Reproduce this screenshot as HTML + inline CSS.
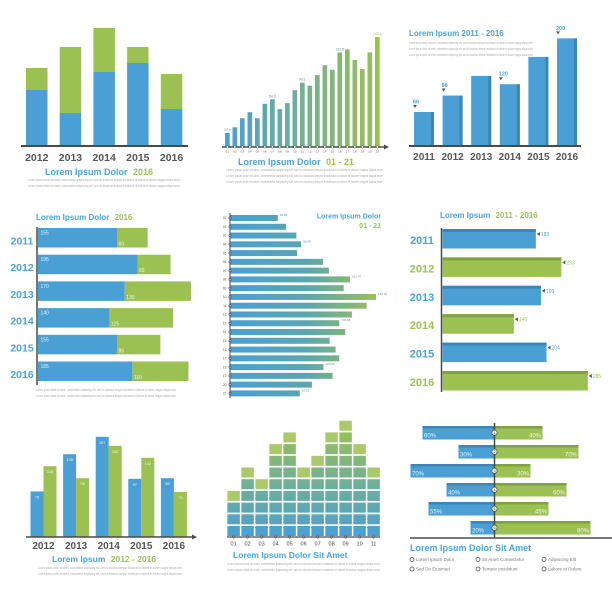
<!DOCTYPE html>
<html><head><meta charset="utf-8"><style>
html,body{margin:0;padding:0;background:#fff;}
svg{display:block;font-family:"Liberation Sans",sans-serif;}
</style></head><body>
<svg id="chart" width="612" height="597" viewBox="0 0 612 597" xmlns="http://www.w3.org/2000/svg">
<defs>
<linearGradient id="gH2" gradientUnits="userSpaceOnUse" x1="225" y1="0" x2="380" y2="0"><stop offset="0" stop-color="#4a9fd4"/><stop offset="1" stop-color="#9cc153"/></linearGradient>
<linearGradient id="gH5" gradientUnits="userSpaceOnUse" x1="230" y1="0" x2="380" y2="0"><stop offset="0" stop-color="#4a9fd4"/><stop offset="0.5" stop-color="#5aa6b0"/><stop offset="1" stop-color="#9cc153"/></linearGradient>
<linearGradient id="gV8" gradientUnits="userSpaceOnUse" x1="0" y1="537" x2="0" y2="425"><stop offset="0" stop-color="#4a9fd4"/><stop offset="1" stop-color="#9cc153"/></linearGradient>
</defs>
</svg>
<script>
// ---- data ----
const p1Years = ['2012','2013','2014','2015','2016'];
const p1Blue = [56,33,74,83,37];
const p1Green = [22,66,44,16,35];
const p2Labels = ['01','02','03','04','05','06','07','08','09','10','11','12','13','14','15','16','17','18','19','20','21'];
const p2Values = [18.5,26,38,46,38,57,63,50,58,75,85,81,95,108,102,125,129,115,103,125,145.3];
const p2Notes = ['13,4','','','','','','54,3','','','','99,1','','','','','122,5','','','','','145,3'];
const p3Years = ['2011','2012','2013','2014','2015','2016'];
const p3Values = [66,98,136,120,173,209];
const p3Shown = [true,true,false,true,false,true];
const p4Years = ['2011','2012','2013','2014','2015','2016'];
const p4Blue = [155,195,170,140,155,185];
const p4Green = [60,65,130,125,85,110];
const p5Labels = ['01','02','03','04','05','06','07','08','09','10','11','12','13','14','15','16','17','18','19','20','21'];
const p5Values = [63.89,75,89,95.46,90,125,133,161.47,153,196.64,184,164,146.95,155,134,142,147,125.66,138,110,93.53];
const p5Notes = ['63,89','','','95,46','','','','161,47','','196,64','','','146,95','','','','','125,66','','','93,53'];
const p6Years = ['2011','2012','2013','2014','2015','2016'];
const p6Values = [183,233,193,140,204,285];
const p7Years = ['2012','2013','2014','2015','2016'];
const p7Blue = [76,138,167,97,98];
const p7Green = [118,98,152,132,75];
const p8Labels = ['01','02','03','04','05','06','07','08','09','10','11'];
const p8Counts = [4,6,5,8,9,6,7,9,10,8,6];
const p9Left = [60,30,70,40,55,20];
const p9Right = [40,70,30,60,45,80];
const p9Legend = ['Lorem Ipsum Dolor','Sit Amet Consectetur','Adipiscing Elit','Sed Do Eiusmod','Tempor Incididunt','Labore et Dolore'];

const BLUE='#4a9fd4', BLUED='#3a86b9', GREEN='#9cc153', GREEND='#7fa23c', AX='#4a4a4a', TB='#4aa3d8', TG='#9cc153';
const svg=document.getElementById('chart');
const NS='http://www.w3.org/2000/svg';
function mk(tag,attrs,txt){const e=document.createElementNS(NS,tag);for(const k in attrs)e.setAttribute(k,attrs[k]);if(txt!==undefined)e.textContent=txt;svg.appendChild(e);return e;}
const FILL='Lorem ipsum dolor sit amet, consectetur adipiscing elit, sed do eiusmod tempor incididunt ut labore et dolore magna aliqua enim';
function filler(x,y,w,n,anchor){for(let i=0;i<n;i++){const t=mk('text',{x:x,y:y+i*6,'font-size':3.3,fill:'#aaa','text-anchor':anchor||'start',textLength:w,lengthAdjust:'spacingAndGlyphs'},FILL);

}}

// ---- Panel 1 ----
(function(){const base=146,x0=26,pitch=33.7,w=21.5;const y=v=>base-v;
p1Years.forEach((yr,i)=>{const x=x0+i*pitch;
const g=mk('rect',{x:x,y:y(p1Blue[i]+p1Green[i]),width:w,height:p1Green[i],fill:GREEN});


const b=mk('rect',{x:x,y:y(p1Blue[i]),width:w,height:p1Blue[i],fill:BLUE});


const t=mk('text',{x:x+w/2,y:161,'font-size':10.5,'font-weight':'bold',fill:'#555','text-anchor':'middle'},yr);

});
const a=mk('line',{x1:21,y1:base,x2:188,y2:base,stroke:AX,'stroke-width':2});


const t=mk('text',{x:45,y:175,'font-size':9,'font-weight':'bold',fill:TB});t.innerHTML='Lorem Ipsum Dolor <tspan fill="'+TG+'" dx="3">2016</tspan>';


filler(28,181,152,2);})();

// ---- Panel 2 ----
(function(){const base=147,x0=225,pitch=7.5,w=4.7,k=0.757;
p2Values.forEach((v,i)=>{const x=x0+i*pitch;
const r=mk('rect',{x:x,y:base-v*k,width:w,height:v*k,fill:'url(#gH2)'});


if(p2Notes[i]){const n=mk('text',{x:x+w/2,y:base-v*k-2,'font-size':3.5,fill:i>15?TG:'#5a8fb0','text-anchor':'middle'},p2Notes[i]);

}
const l=mk('text',{x:x+w/2,y:152.5,'font-size':3,fill:'#555','text-anchor':'middle'},p2Labels[i]);

});
const a=mk('line',{x1:222,y1:base,x2:385,y2:base,stroke:AX,'stroke-width':1.5});


const ar=mk('polygon',{points:'384,144.5 389,147 384,149.5',fill:AX});


p2Values.forEach((v,i)=>{const c=mk('circle',{cx:x0+i*pitch+w/2,cy:base,r:1.2,fill:'#fff',stroke:AX,'stroke-width':0.5});

});
const t=mk('text',{x:238,y:165,'font-size':9,'font-weight':'bold',fill:TB});t.innerHTML='Lorem Ipsum Dolor <tspan fill="'+TG+'" dx="3">01 - 21</tspan>';


filler(226,171,157,3);})();

// ---- Panel 3 ----
(function(){const base=146,x0=414,pitch=28.6,w=20,k=0.515;
p3Values.forEach((v,i)=>{const x=x0+i*pitch,h=v*k;
const r=mk('rect',{x:x,y:base-h,width:w,height:h,fill:BLUE});


const s=mk('rect',{x:x+w-3,y:base-h,width:3,height:h,fill:BLUED});


if(p3Shown[i]){const m=mk('polygon',{points:(x-1)+','+(base-h-7)+' '+(x+3)+','+(base-h-7)+' '+(x+1)+','+(base-h-4),fill:'#555'});


const n=mk('text',{x:x-1,y:base-h-8.5,'font-size':5.5,'font-weight':'bold',fill:TB},String(v));

}
const t=mk('text',{x:x+w/2,y:160,'font-size':10,'font-weight':'bold',fill:'#555','text-anchor':'middle'},p3Years[i]);

});
const a=mk('line',{x1:409,y1:base,x2:581,y2:base,stroke:AX,'stroke-width':2});


const t=mk('text',{x:409,y:36,'font-size':8,'font-weight':'bold',fill:TB},'Lorem Ipsum 2011 - 2016');


filler(409,44,124,3);})();

// ---- Panel 4 ----
(function(){const x0=38,y0=228,pitch=26.7,h=19.5,k=0.51;
p4Years.forEach((yr,i)=>{const y=y0+i*pitch,bw=p4Blue[i]*k,gw=p4Green[i]*k;
const g=mk('rect',{x:x0+bw,y:y,width:gw,height:h,fill:GREEN});


const b=mk('rect',{x:x0,y:y,width:bw,height:h,fill:BLUE});


const bl=mk('text',{x:x0+2.5,y:y+6.5,'font-size':5,fill:'#e8f3fb'},String(p4Blue[i]));


const gl=mk('text',{x:x0+bw+1.5,y:y+h-2,'font-size':5,fill:'#f3f8e8'},String(p4Green[i]));


const t=mk('text',{x:22,y:y+16.5+0,'font-size':10.5,'font-weight':'bold',fill:TB,'text-anchor':'middle'},yr);

});
const a=mk('line',{x1:37,y1:227,x2:37,y2:385,stroke:AX,'stroke-width':1.5});


const t=mk('text',{x:36,y:220,'font-size':8,'font-weight':'bold',fill:TB});t.innerHTML='Lorem Ipsum Dolor <tspan fill="'+TG+'" dx="3">2016</tspan>';


filler(36,391,140,2);})();

// ---- Panel 5 ----
(function(){const x0=230.5,y0=215,pitch=8.77,h=6,k=0.74;
p5Values.forEach((v,i)=>{const y=y0+i*pitch;
const r=mk('rect',{x:x0,y:y,width:v*k,height:h,fill:'url(#gH5)'});


const c=mk('circle',{cx:230,cy:y+h/2,r:1.3,fill:'#fff',stroke:AX,'stroke-width':0.5});


const l=mk('text',{x:226.5,y:y+h/2+1.2,'font-size':3.3,fill:'#555','text-anchor':'end'},p5Labels[i]);


if(p5Notes[i]){const n=mk('text',{x:x0+v*k+2,y:y+1,'font-size':3,fill:i>6?'#6a9a70':'#4a8fc0'},p5Notes[i]);

}});
const a=mk('line',{x1:230,y1:213,x2:230,y2:398,stroke:AX,'stroke-width':1});


const t1=mk('text',{x:381,y:218.5,'font-size':7,'font-weight':'bold',fill:TB,'text-anchor':'end'},'Lorem Ipsum Dolor');


const t2=mk('text',{x:381,y:228,'font-size':7,'font-weight':'bold',fill:TG,'text-anchor':'end'},'01 - 21');

})();

// ---- Panel 6 ----
(function(){const x0=442.5,y0=229,pitch=28.4,h=19.5,k=0.51;
p6Values.forEach((v,i)=>{const y=y0+i*pitch,w=v*k,c=i%2?GREEN:BLUE,cd=i%2?GREEND:BLUED;
const r=mk('rect',{x:x0,y:y,width:w,height:h,fill:c});


const s=mk('rect',{x:x0,y:y,width:w,height:3,fill:cd});


const m=mk('polygon',{points:(x0+w+1)+','+(y+5)+' '+(x0+w+4)+','+(y+3)+' '+(x0+w+4)+','+(y+7),fill:'#555'});


const n=mk('text',{x:x0+w+5,y:y+7,'font-size':5,fill:i%2?TG:TB},String(v));


const t=mk('text',{x:422,y:y+15,'font-size':11,'font-weight':'bold',fill:i%2?TG:TB,'text-anchor':'middle'},p6Years[i]);

});
const a=mk('line',{x1:441.5,y1:228,x2:441.5,y2:392,stroke:AX,'stroke-width':1.5});


const t=mk('text',{x:440,y:218,'font-size':8,'font-weight':'bold',fill:TB});t.innerHTML='Lorem Ipsum <tspan fill="'+TG+'" dx="3">2011 - 2016</tspan>';

})();

// ---- Panel 7 ----
(function(){const base=537,x0=30.5,pitch=32.6,w=13,k=0.6;
p7Years.forEach((yr,i)=>{const x=x0+i*pitch;
const b=mk('rect',{x:x,y:base-p7Blue[i]*k,width:w,height:p7Blue[i]*k,fill:BLUE});


const g=mk('rect',{x:x+w,y:base-p7Green[i]*k,width:w,height:p7Green[i]*k,fill:GREEN});


const bl=mk('text',{x:x+w/2,y:base-p7Blue[i]*k+7,'font-size':4,fill:'#e8f3fb','text-anchor':'middle'},String(p7Blue[i]));


const gl=mk('text',{x:x+w*1.5,y:base-p7Green[i]*k+7,'font-size':4,fill:'#f3f8e8','text-anchor':'middle'},String(p7Green[i]));


const t=mk('text',{x:x+w,y:549,'font-size':10,'font-weight':'bold',fill:'#555','text-anchor':'middle'},yr);

});
const a=mk('line',{x1:26,y1:base,x2:193,y2:base,stroke:AX,'stroke-width':1.5});


const ar=mk('polygon',{points:'192,534.5 197,537 192,539.5',fill:AX});


const t=mk('text',{x:52,y:562,'font-size':8.5,'font-weight':'bold',fill:TB});t.innerHTML='Lorem Ipsum <tspan fill="'+TG+'" dx="3">2012 - 2016</tspan>';


filler(38,569,144,2);})();

// ---- Panel 8 ----
(function(){const base=536,x0=233.6,pitch=14,w=12.5,rowH=11.7,bh=10;
p8Counts.forEach((n,i)=>{const cx=x0+i*pitch;
for(let j=0;j<n;j++){const top=base-(j+1)*rowH+(rowH-bh);
const r=mk('rect',{x:cx-w/2,y:top,width:w,height:bh,fill:j===n-1?'#a9c96a':'url(#gV8)'});

}
const c=mk('circle',{cx:cx,cy:537,r:1.3,fill:'#fff',stroke:AX,'stroke-width':0.5});


const l=mk('text',{x:cx,y:545.5,'font-size':5.5,fill:'#444','text-anchor':'middle'},p8Labels[i]);

});
const a=mk('line',{x1:227,y1:537,x2:380,y2:537,stroke:AX,'stroke-width':1.3});


const t=mk('text',{x:233,y:558,'font-size':8.5,'font-weight':'bold',fill:TB},'Lorem Ipsum Dolor Sit Amet');


filler(227,565,153,2);})();

// ---- Panel 9 ----
(function(){const cx=494.5,y0=426,pitch=19,h=13.5,k=1.2;
p9Left.forEach((v,i)=>{const y=y0+i*pitch,lw=v*k,rw=p9Right[i]*k;
const b=mk('rect',{x:cx-lw,y:y,width:lw,height:h,fill:BLUE});


const bs=mk('rect',{x:cx-lw,y:y,width:lw,height:2.5,fill:BLUED});


const g=mk('rect',{x:cx,y:y,width:rw,height:h,fill:GREEN});


const gs=mk('rect',{x:cx,y:y,width:rw,height:2.5,fill:GREEND});


const bl=mk('text',{x:cx-lw+1.5,y:y+h-2,'font-size':6,fill:'#e8f3fb'},v+'%');


const gl=mk('text',{x:cx+rw-1.5,y:y+h-2,'font-size':6,fill:'#f3f8e8','text-anchor':'end'},p9Right[i]+'%');

});
const a=mk('line',{x1:cx,y1:423,x2:cx,y2:538,stroke:AX,'stroke-width':1.5});


p9Left.forEach((v,i)=>{const y=y0+i*pitch+h/2;
const c=mk('circle',{cx:cx,cy:y,r:2.6,fill:'#fff',stroke:AX,'stroke-width':0.7});


const n=mk('text',{x:cx,y:y+1.4,'font-size':3.8,fill:'#333','text-anchor':'middle'},String(i+1));

});
const bl=mk('line',{x1:410,y1:538,x2:612,y2:538,stroke:AX,'stroke-width':1.5});


const t=mk('text',{x:410,y:551,'font-size':9,'font-weight':'bold',fill:TB},'Lorem Ipsum Dolor Sit Amet');


p9Legend.forEach((s,i)=>{const x=410+(i%3)*66,y=561+Math.floor(i/3)*9.5;
const c=mk('circle',{cx:x+2,cy:y-1.5,r:2,fill:'#fff',stroke:'#555','stroke-width':0.8});


const l=mk('text',{x:x+6,y:y,'font-size':4.5,fill:'#777'},s);

});})();
</script>
</body></html>
